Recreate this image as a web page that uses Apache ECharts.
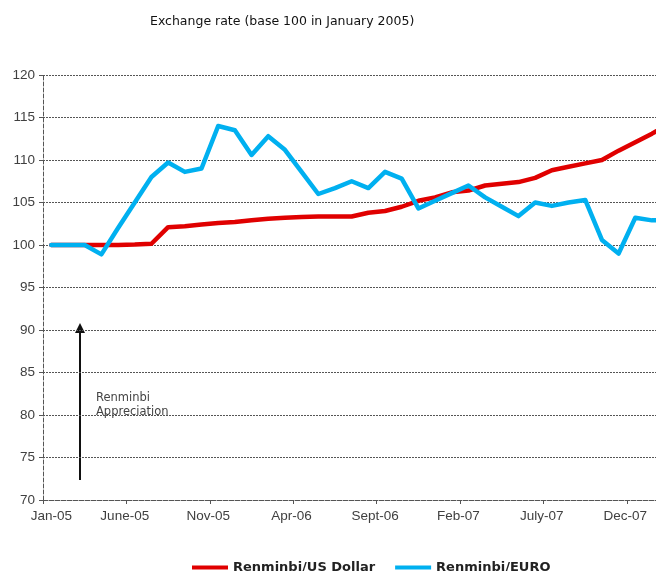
<!DOCTYPE html>
<html>
<head>
<meta charset="utf-8">
<script src="https://cdn.jsdelivr.net/npm/echarts@6/dist/echarts.min.js"></script>
<style>
html,body{margin:0;padding:0;background:#fff;}
#chart{width:656px;height:571px;}
</style>
</head>
<body>
<div id="chart"></div>
<script>
const months = ['Jan-05','Feb-05','Mar-05','Apr-05','May-05','June-05','July-05','Aug-05','Sept-05','Oct-05','Nov-05','Dec-05',
  'Jan-06','Feb-06','Mar-06','Apr-06','May-06','June-06','July-06','Aug-06','Sept-06','Oct-06','Nov-06','Dec-06',
  'Jan-07','Feb-07','Mar-07','Apr-07','May-07','June-07','July-07','Aug-07','Sept-07','Oct-07','Nov-07','Dec-07',
  'Jan-08','Feb-08'];
const usdValues = [100,100,100,100,100.0,100.05,100.15,102.1,102.2,102.4,102.6,102.7,
  102.9,103.1,103.2,103.3,103.35,103.35,103.35,103.8,104.0,104.5,105.2,105.6,
  106.2,106.4,107.0,107.2,107.4,107.9,108.8,109.2,109.6,110.0,111.1,112.1,
  113.1,114.2];
const euroValues = [100,100,100,98.9,102,105,108,109.7,108.6,109.0,114.0,113.5,
  110.6,112.8,111.2,108.6,106.0,106.7,107.5,106.7,108.6,107.8,104.3,105.2,
  106.1,107.0,105.6,104.5,103.4,105.0,104.6,105.0,105.3,100.6,99.0,103.2,
  102.9,102.9];
const seriesNames = ['Renminbi/US Dollar','Renminbi/EURO'];
const titleText = 'Exchange rate (base 100 in January 2005)';
const annotationText = 'Renminbi\nAppreciation';

const chart = echarts.init(document.getElementById('chart'), null, {renderer:'canvas'});
const option = {
  backgroundColor:'#fff',
  animation:false,
  title:{
    text:titleText, left:145, top:10,
    textStyle:{fontFamily:'DejaVu Sans', fontSize:12.5, fontWeight:'normal', color:'#111'}
  },
  legend:{
    data:seriesNames, left:187, top:556,
    icon:'rect', itemWidth:36, itemHeight:4, itemGap:20,
    textStyle:{fontFamily:'DejaVu Sans', fontSize:13, fontWeight:'bold', color:'#222'}
  },
  grid:{left:43, top:75, width:634, height:425, containLabel:false, outerBoundsMode:'none'},
  xAxis:{
    type:'category', data:months, boundaryGap:true,
    axisLine:{lineStyle:{color:'#555', type:[4,2], width:1}},
    axisTick:{show:true, interval:4, length:4, lineStyle:{color:'#555'}},
    axisLabel:{
      interval:4, margin:9, color:'#404040', fontFamily:'Liberation Sans', fontSize:13.5,
      formatter:function(v, i){ return i === 0 ? '{a|' + v + '}' : '{b|' + v + '}'; },
      rich:{
        a:{fontFamily:'Liberation Sans', fontSize:13.5, color:'#404040'},
        b:{fontFamily:'Liberation Sans', fontSize:13.5, color:'#404040', padding:[0,20,0,0]}
      }
    },
    splitLine:{show:false}
  },
  yAxis:{
    type:'value', min:70, max:120, interval:5,
    axisLine:{show:true, lineStyle:{color:'#555', type:[4,2], width:1}},
    axisTick:{show:true, length:4, lineStyle:{color:'#555'}},
    axisLabel:{margin:8, color:'#404040', fontFamily:'Liberation Sans', fontSize:13.5},
    splitLine:{show:true, lineStyle:{color:'#555', type:[2,1], width:1}}
  },
  series:[
    {name:seriesNames[0], type:'line', data:usdValues, showSymbol:false, symbol:'none',
     itemStyle:{color:'#E00000'},
     lineStyle:{color:'#E00000', width:4.5, join:'round', cap:'round'}},
    {name:seriesNames[1], type:'line', data:euroValues, showSymbol:false, symbol:'none',
     itemStyle:{color:'#00B0F0'},
     lineStyle:{color:'#00B0F0', width:4.5, join:'round', cap:'round'}}
  ],
  graphic:[
    {type:'line', shape:{x1:80, y1:480, x2:80, y2:332}, style:{stroke:'#111', lineWidth:2}},
    {type:'polygon', shape:{points:[[75,333],[85,333],[80,323]]}, style:{fill:'#111'}},
    {type:'text', left:96, top:391, style:{text:annotationText, font:'11.5px "DejaVu Sans"', fill:'#444', lineHeight:14}}
  ]
};
chart.setOption(option);
</script>
</body>
</html>
